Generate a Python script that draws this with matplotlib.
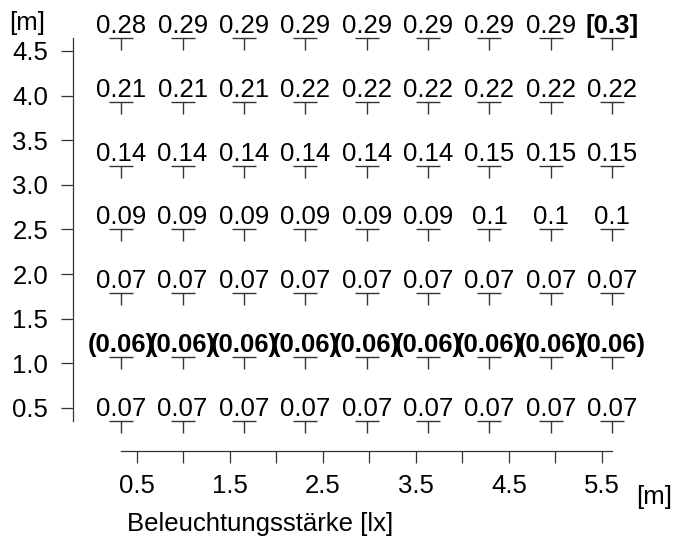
import matplotlib
matplotlib.use("Agg")
import matplotlib.pyplot as plt
from matplotlib.path import Path
from matplotlib.markers import MarkerStyle

plt.rcParams['font.family'] = ['Liberation Sans', 'DejaVu Sans']

# grid positions [m]
x_pos = [0.33, 0.99, 1.65, 2.31, 2.97, 3.63, 4.29, 4.95, 5.61]
y_pos = [0.357, 1.071, 1.786, 2.5, 3.214, 3.929, 4.643]

# illuminance values per row (bottom to top)
row_0357 = [0.07, 0.07, 0.07, 0.07, 0.07, 0.07, 0.07, 0.07, 0.07]
row_1071 = [0.06, 0.06, 0.06, 0.06, 0.06, 0.06, 0.06, 0.06, 0.06]
row_1786 = [0.07, 0.07, 0.07, 0.07, 0.07, 0.07, 0.07, 0.07, 0.07]
row_2500 = [0.09, 0.09, 0.09, 0.09, 0.09, 0.09, 0.1, 0.1, 0.1]
row_3214 = [0.14, 0.14, 0.14, 0.14, 0.14, 0.14, 0.15, 0.15, 0.15]
row_3929 = [0.21, 0.21, 0.21, 0.22, 0.22, 0.22, 0.22, 0.22, 0.22]
row_4643 = [0.28, 0.29, 0.29, 0.29, 0.29, 0.29, 0.29, 0.29, 0.3]
rows = [row_0357, row_1071, row_1786, row_2500, row_3214, row_3929, row_4643]

x_ticks = [0.5, 1.0, 1.5, 2.0, 2.5, 3.0, 3.5, 4.0, 4.5, 5.0, 5.5]
x_ticklabels = ['0.5', '', '1.5', '', '2.5', '', '3.5', '', '4.5', '', '5.5']
y_ticks = [0.5, 1.0, 1.5, 2.0, 2.5, 3.0, 3.5, 4.0, 4.5]
y_ticklabels = ['0.5', '1.0', '1.5', '2.0', '2.5', '3.0', '3.5', '4.0', '4.5']

FS = 18.5
fig = plt.figure(figsize=(6.78, 5.42), dpi=100)
ax = fig.add_axes([72.5 / 678, (542 - 450.7) / 542, (640 - 72.5) / 678, (450.7 - 25) / 542])
ax.set_xlim(-0.1935, 5.9086)
ax.set_ylim(0.0216, 4.791)

t_path = Path([(-1, 0), (1, 0), (0, 0), (0, -1)],
              [Path.MOVETO, Path.LINETO, Path.MOVETO, Path.LINETO])
t_marker = MarkerStyle(t_path)

all_vals = [v for r in rows for v in r]
vmin, vmax = min(all_vals), max(all_vals)

for y, r in zip(y_pos, rows):
    ax.plot(x_pos, [y] * len(x_pos), linestyle='none', marker=t_marker,
            markersize=17.8, markeredgewidth=1.0, color='#333333')
    for x, v in zip(x_pos, r):
        s = f"{v:g}"
        weight = 'normal'
        if v == vmax:
            s = f"[{s}]"
            weight = 'bold'
        elif v == vmin:
            s = f"({s})"
            weight = 'bold'
        ax.annotate(s, (x, y), xytext=(0, 3.6), textcoords='offset points',
                    ha='center', va='baseline', fontsize=FS, fontweight=weight)

for side in ['top', 'right']:
    ax.spines[side].set_visible(False)
ax.spines['left'].set_bounds(min(y_pos), max(y_pos))
ax.spines['bottom'].set_bounds(min(x_pos), max(x_pos))
for side in ['left', 'bottom']:
    ax.spines[side].set_color('#333333')
    ax.spines[side].set_linewidth(0.9)

ax.set_xticks(x_ticks)
ax.set_xticklabels(x_ticklabels)
ax.set_yticks(y_ticks)
ax.set_yticklabels(y_ticklabels)
ax.tick_params(axis='both', length=8.6, width=0.9, color='#333333', labelsize=FS)
ax.tick_params(axis='x', pad=8)
ax.tick_params(axis='y', pad=9)
ax.patch.set_alpha(0)

fig.text(260 / 678, (542 - 531) / 542, 'Beleuchtungsstärke [lx]', ha='center',
         va='baseline', fontsize=FS)
fig.text(9 / 678, 1 - 11 / 542, '[m]', ha='left', va='top', fontsize=FS)
fig.text(636 / 678, 1 - 485 / 542, '[m]', ha='left', va='top', fontsize=FS)

fig.savefig('out.png', dpi=100)
